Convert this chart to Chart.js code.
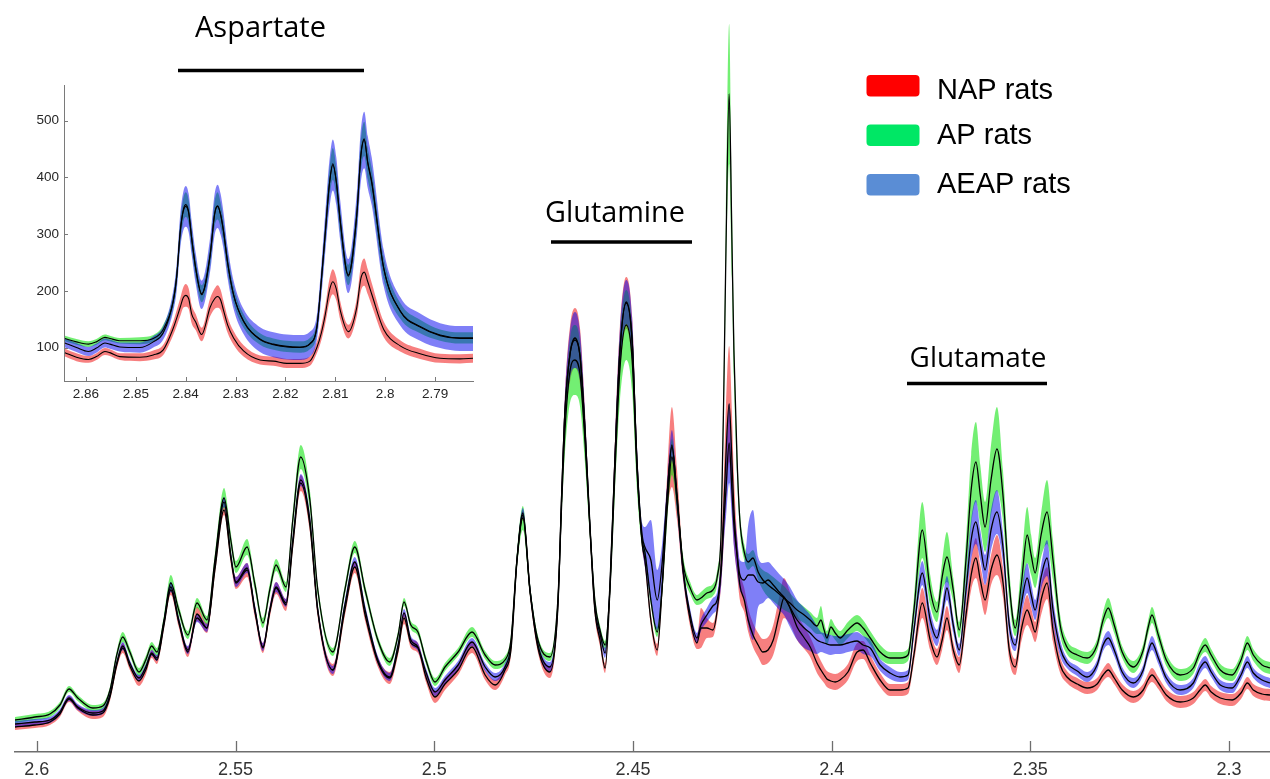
<!DOCTYPE html>
<html><head><meta charset="utf-8">
<script src="https://cdn.jsdelivr.net/npm/chart.js@4.4.1/dist/chart.umd.min.js"></script>
<style>
html,body{margin:0;padding:0;background:#fff;}
#wrap{position:relative;width:1270px;height:779px;overflow:hidden;background:#fff;}
#main{position:absolute;left:0;top:0;}
#inset{position:absolute;left:0;top:0;}
</style></head><body>
<div id="wrap"><canvas id="main" width="1270" height="779"></canvas><canvas id="inset" width="490" height="410"></canvas></div>
<script>
// ---------- main spectrum (chemical shift, ppm) ----------
const ppm = [2.6055,2.6005,2.5967,2.5942,2.5919,2.5897,2.5859,2.5834,2.5816,2.5799,2.5784,2.5766,2.5743,2.5726,2.5711,2.5698,2.5680,2.5663,2.5643,2.5620,2.5597,2.5572,2.5552,2.5529,2.5512,2.5499,2.5471,2.5451,2.5431,2.5414,2.5398,2.5373,2.5356,2.5336,
2.5313,2.5293,2.5255,2.5225,2.5200,2.5174,2.5142,2.5112,2.5091,2.5076,2.5059,2.5041,2.5021,2.4998,2.4973,2.4940,2.4905,2.4872,2.4847,2.4822,2.4807,2.4792,2.4777,2.4759,2.4739,2.4709,
2.4689,2.4679,2.4671,2.4658,2.4646,2.4633,2.4621,2.4608,2.4596,2.4583,2.4570,2.4558,2.4545,2.4533,2.4517,2.4502,2.4490,2.4477,2.4470,2.4455,2.4439,2.4427,2.4414,2.4402,2.4389,2.4374,2.4356,2.4339,2.4329,2.4314,2.4299,2.4288,2.4278,2.4271,2.4266,2.4258,2.4251,2.4246,2.4238,2.4231,
2.4220,2.4210,2.4198,2.4185,2.4173,2.4160,2.4147,2.4132,2.4120,2.4105,2.4087,2.4069,2.4054,2.4037,2.4027,2.4019,2.4012,2.4002,2.3991,2.3979,2.3959,2.3936,2.3921,2.3903,2.3878,2.3853,2.3828,2.3808,
2.3793,2.3772,2.3752,2.3735,2.3722,2.3710,2.3694,2.3679,2.3662,2.3649,2.3637,2.3626,2.3614,2.3599,2.3584,2.3569,2.3553,2.3538,2.3523,2.3508,2.3498,2.3488,2.3473,2.3458,2.3443,2.3425,2.3408,2.3382,2.3357,2.3332,2.3317,2.3304,2.3289,2.3269,2.3241,2.3216,2.3204,2.3194,2.3178,2.3158,2.3123,2.3090,2.3073,2.3060,2.3045,2.3022,2.2992,2.2970,2.2954,2.2939,2.2917,2.2897];

// NAP rats (red)
const napMean = [25,27,30,38,53,44,37,39,55,87,104,86,71,82,98,92,127,162,130,100,138,124,182,242,194,169,182,140,104,140,164,147,207,269,
227,140,82,142,185,137,90,74,102,134,109,104,75,55,68,82,105,77,67,82,102,190,237,160,104,80,
144,262,342,399,414,395,325,222,142,112,84,162,297,400,449,410,290,209,192,132,102,162,257,305,257,182,132,109,124,124,122,142,187,247,297,348,292,242,197,167,
152,132,117,107,100,102,112,137,154,144,125,114,105,89,82,77,73,71,70,72,80,100,102,89,72,62,62,64,
97,149,112,95,112,134,102,87,137,177,194,172,152,182,197,170,102,85,122,142,132,120,152,169,122,87,75,68,64,68,77,82,74,62,55,62,72,77,69,57,50,54,62,67,60,54,52,59,69,62,58,57];
const napSd = [3,3,3,3,3,3,4,4,4,4,5,4,5,5,4,4,4,5,5,5,7,5,5,5,6,6,7,6,5,6,6,6,6,8,
7,6,6,6,6,6,5,6,5,6,5,5,5,6,6,5,6,5,5,5,5,5,5,5,5,6,
6,10,18,28,30,28,18,8,6,6,5,8,18,25,26,25,16,6,6,6,6,8,20,40,25,10,7,6,20,10,7,8,20,35,50,58,48,35,20,15,
12,12,12,12,13,13,15,18,20,16,13,11,10,10,9,8,8,8,8,8,8,9,9,8,7,6,6,6,
8,15,10,8,10,12,8,8,12,15,20,15,15,15,20,15,10,8,12,15,12,10,15,16,12,8,6,6,6,6,6,7,6,6,6,6,6,7,6,6,6,6,6,6,6,6,6,6,6,6,6,6];

// AP rats (green)
const apMean = [32,35,38,47,63,54,44,46,62,97,115,100,80,92,106,100,132,169,142,117,149,132,192,254,212,185,205,167,129,162,187,165,232,295,
252,162,100,162,205,162,112,90,117,150,127,120,92,70,85,100,120,97,87,92,112,192,234,162,112,95,
152,252,322,382,392,377,312,222,152,122,107,162,282,382,427,392,282,212,200,152,120,162,242,295,252,189,164,152,154,159,162,175,222,372,502,658,512,402,292,232,
200,190,194,180,172,167,163,158,154,149,142,137,132,126,132,122,114,125,119,114,122,129,124,114,100,94,94,97,
142,222,162,140,175,195,162,122,192,262,290,257,225,272,303,257,167,124,167,217,197,179,217,240,192,127,105,97,94,107,132,144,127,100,85,102,124,137,117,92,77,84,100,107,97,82,77,92,109,97,87,84];
const apSd = [3,3,3,3,3,3,3,3,3,4,5,4,4,4,4,4,5,8,5,4,5,4,6,10,7,6,8,6,5,6,6,5,8,12,
10,6,4,5,6,5,4,4,4,4,4,4,4,4,4,4,5,4,4,4,5,8,12,6,4,4,
6,12,22,32,35,32,22,10,6,5,4,8,20,32,35,32,20,8,6,5,5,8,12,18,12,8,6,5,6,6,6,7,10,22,35,70,38,28,15,10,
8,8,8,8,10,12,12,12,12,10,9,8,8,8,14,8,7,8,7,7,8,8,8,7,7,6,6,6,
12,28,15,10,15,25,12,8,20,35,40,30,25,35,42,25,15,8,20,28,20,15,22,32,20,10,7,6,6,6,8,10,8,6,6,6,7,8,7,6,6,6,6,7,6,6,6,6,7,6,6,6];

// AEAP rats (blue)
const aeapMean = [28,30,32,40,54,45,39,41,57,89,106,89,74,85,99,94,130,165,132,102,134,124,187,250,197,170,184,142,105,142,165,149,212,272,
232,142,82,147,190,142,92,75,107,139,112,105,80,60,72,87,110,85,75,85,107,192,239,162,107,85,
147,262,342,399,412,395,325,225,145,119,99,167,297,400,450,412,292,217,205,192,152,187,257,307,252,182,137,114,127,137,146,152,182,232,262,309,262,227,197,177,
172,177,177,170,169,172,167,160,155,145,132,124,119,112,110,109,108,107,107,107,109,111,107,104,87,79,75,77,
122,179,132,114,137,164,127,102,162,212,230,207,182,222,240,205,127,107,147,174,157,142,175,194,142,104,89,81,75,87,107,114,102,80,69,82,100,109,94,74,62,69,84,90,80,67,64,77,90,79,72,69];
const aeapSd = [3,3,3,3,3,3,3,3,3,3,4,3,3,3,3,3,4,5,4,4,4,4,4,5,5,5,5,5,4,4,5,4,5,6,
6,5,4,5,5,5,4,4,4,4,4,4,4,4,4,4,4,4,4,4,4,5,5,5,4,5,
6,10,16,24,28,24,16,8,5,5,5,8,15,22,22,22,15,12,20,40,30,20,12,15,12,8,6,5,6,7,8,8,15,20,28,40,28,22,18,15,
18,50,65,25,20,18,18,18,18,20,20,20,18,14,10,10,10,10,9,9,9,9,9,8,6,6,5,5,
8,12,10,8,10,12,8,6,12,20,22,15,15,20,22,15,10,6,12,15,12,10,12,18,12,8,5,5,5,5,6,7,6,5,5,5,6,7,6,5,5,5,6,6,5,5,5,5,6,5,5,5];

const mainTicks = [2.6,2.55,2.5,2.45,2.4,2.35,2.3];

// ---------- inset: aspartate region ----------
const insetPpm = [2.8642,2.8619,2.8595,2.8579,2.8562,2.8552,2.8532,2.8492,2.8465,2.8445,
2.8425,2.8418,2.8411,2.8405,2.8400,2.8394,2.8388,2.8380,2.8368,2.8351,
2.8342,2.8336,2.8330,2.8324,2.8316,2.8304,2.8284,2.8251,2.8224,2.8197,
2.8171,2.8151,2.8137,2.8128,2.8120,2.8112,2.8105,2.8098,2.8090,2.8074,
2.8057,2.8049,2.8042,2.8035,2.8027,2.8003,2.7970,2.7930,2.7890,2.7850,2.7824];
const insetNapMean = [91,83,79,84,93,91,84,83,87,96,134,152,171,188,192,186,159,145,123,171,
186,190,184,165,140,117,94,78,76,72,72,76,100,126,159,200,216,203,165,128,
171,221,233,216,194,132,103,89,81,80,81];
const insetNapSd = [7,7,6,6,6,6,6,7,8,9,12,14,16,18,20,18,16,14,12,16,
18,20,18,16,14,12,10,8,8,8,8,8,10,13,16,20,22,20,16,12,
16,22,24,22,20,14,10,9,8,8,8];
const insetApMean = [116,110,106,110,118,116,112,112,116,132,182,226,303,342,352,339,292,240,195,262,
336,350,334,303,250,193,147,115,106,102,101,107,136,219,303,388,424,391,320,228,
333,438,468,425,390,240,165,137,122,117,117];
const insetApSd = [5,5,5,5,5,5,5,6,6,8,12,16,20,21,22,21,20,17,15,18,
22,24,22,20,17,15,12,10,10,10,10,10,12,17,22,26,28,26,22,18,
24,28,30,28,26,20,14,12,10,10,10];
const insetAeapMean = [108,100,93,99,108,106,101,100,110,126,182,225,305,340,349,337,293,240,193,264,
335,349,335,305,250,193,146,114,105,101,100,106,136,219,305,387,422,393,323,226,
335,437,466,427,393,240,164,136,121,116,116];
const insetAeapSd = [8,8,8,8,8,8,8,9,10,12,18,24,30,34,36,34,30,27,25,30,
36,38,36,32,28,25,22,22,22,22,22,22,22,28,35,42,45,42,35,30,
38,46,50,46,42,32,25,24,22,22,22];
const insetTicksX = [2.86,2.85,2.84,2.83,2.82,2.81,2.8,2.79];
const insetTicksY = [100,200,300,400,500];

const seriesNames = ['NAP rats','AP rats','AEAP rats'];
const annotationLabels = ['Aspartate','Glutamine','Glutamate'];

// ---------- styling ----------
const bandColors = ['rgba(240,0,0,0.5)','rgba(0,225,0,0.55)','rgba(0,0,240,0.5)'];
const swatchColors = ['#ff0000','#00e765','#5a8dd5'];
const fmt = v => String(Math.round(v*1000)/1000);

function buildSets(x, means, sds, lineWidth){
  const sets = [];
  const orders = [3,2,1];
  means.forEach((m,k)=>{
    const sd = sds[k];
    sets.push({data:x.map((v,i)=>({x:v,y:m[i]+sd[i]})), borderColor:'rgba(0,0,0,0)', borderWidth:0, pointRadius:0, fill:false, order:orders[k]});
    sets.push({data:x.map((v,i)=>({x:v,y:m[i]-sd[i]})), borderColor:'rgba(0,0,0,0)', borderWidth:0, pointRadius:0, fill:'-1', backgroundColor:bandColors[k], order:orders[k]});
  });
  means.forEach((m)=>{
    sets.push({data:x.map((v,i)=>({x:v,y:m[i]})), borderColor:'#000', borderWidth:lineWidth, pointRadius:0, fill:false, order:0});
  });
  return sets;
}

const inwardTicks = {
  id:'inwardTicks',
  afterDraw(chart, args, opts){
    const {ctx, chartArea} = chart;
    ctx.save(); ctx.strokeStyle = opts.color; ctx.lineWidth = opts.width;
    const xs = chart.scales.x;
    xs.ticks.forEach(t=>{
      const px = Math.round(xs.getPixelForValue(t.value))+0.5;
      ctx.beginPath(); ctx.moveTo(px, chartArea.bottom); ctx.lineTo(px, chartArea.bottom-opts.len); ctx.stroke();
    });
    if (opts.yTicks){
      const ys = chart.scales.y;
      ys.ticks.forEach(t=>{
        const py = Math.round(ys.getPixelForValue(t.value))+0.5;
        ctx.beginPath(); ctx.moveTo(chartArea.left, py); ctx.lineTo(chartArea.left+opts.len, py); ctx.stroke();
      });
    }
    ctx.restore();
  }
};

function fitSize(ctx, text, family, targetW){
  ctx.font = '100px ' + family;
  return 100*targetW/ctx.measureText(text).width;
}

const overlay = {
  id:'overlay',
  afterDraw(chart){
    const ctx = chart.ctx;
    ctx.save();
    const place = [
      {cx:260.5, w:131, base:37, x1:178, x2:364, ly:70.5},
      {cx:615,   w:140, base:222, x1:551, x2:692, ly:242},
      {cx:978,   w:137, base:367, x1:907, x2:1047, ly:383.5}
    ];
    const fam = '"Open Sans", "Noto Sans", sans-serif';
    annotationLabels.forEach((t,i)=>{
      const p = place[i];
      const s = fitSize(ctx, t, fam, p.w);
      ctx.font = s.toFixed(1)+'px '+fam;
      ctx.fillStyle = '#000'; ctx.textAlign='center'; ctx.textBaseline='alphabetic';
      ctx.fillText(t, p.cx, p.base);
      ctx.strokeStyle='#000'; ctx.lineWidth=3.5;
      ctx.beginPath(); ctx.moveTo(p.x1, p.ly); ctx.lineTo(p.x2, p.ly); ctx.stroke();
    });
    const tops = [75, 124.5, 174];
    const bases = [99, 143.5, 193];
    const lfam = '"Liberation Sans", Arial, sans-serif';
    const ls = fitSize(ctx, seriesNames[0], lfam, 116);
    seriesNames.forEach((n,i)=>{
      ctx.fillStyle = swatchColors[i];
      ctx.beginPath();
      if (ctx.roundRect) ctx.roundRect(866.5, tops[i], 53, 21.5, 4); else ctx.rect(866.5, tops[i], 53, 21.5);
      ctx.fill();
      ctx.fillStyle = '#000'; ctx.textAlign='left'; ctx.textBaseline='alphabetic';
      ctx.font = ls.toFixed(1)+'px '+lfam;
      ctx.fillText(n, 937, bases[i]);
    });
    ctx.restore();
  }
};

const common = {
  responsive:false, animation:false, events:[],
  elements:{line:{cubicInterpolationMode:'monotone'}},
};

new Chart(document.getElementById('main'), {
  type:'line',
  data:{datasets: buildSets(ppm, [napMean, apMean, aeapMean], [napSd, apSd, aeapSd], 1.3)},
  options:Object.assign({}, common, {
    layout:{padding:{left:15, right:0, top:0, bottom:0}},
    plugins:{legend:{display:false}, tooltip:{enabled:false},
      inwardTicks:{color:'#6e6e6e', width:1.3, len:11, yTicks:false}},
    scales:{
      x:{type:'linear', reverse:true, min:2.2897, max:2.6055,
        afterBuildTicks:s=>{ s.ticks = mainTicks.map(v=>({value:v})); },
        afterFit:s=>{ s.height = 27; },
        grid:{display:false, drawTicks:false},
        border:{display:true, color:'#6e6e6e', width:1.5},
        ticks:{autoSkip:false, maxRotation:0, padding:7, color:'#333',
          font:{family:'"Liberation Sans", Arial, sans-serif', size:18}, callback:v=>fmt(v)}},
      y:{display:false, min:0, max:752}
    }
  }),
  plugins:[inwardTicks, overlay]
});

new Chart(document.getElementById('inset'), {
  type:'line',
  data:{datasets: buildSets(insetPpm, [insetNapMean, insetApMean, insetAeapMean], [insetNapSd, insetApSd, insetAeapSd], 1.1)},
  options:Object.assign({}, common, {
    layout:{padding:{left:0, right:17, top:85, bottom:0}},
    plugins:{legend:{display:false}, tooltip:{enabled:false},
      inwardTicks:{color:'#7a7a7a', width:1, len:4, yTicks:true}},
    scales:{
      x:{type:'linear', reverse:true, min:2.7824, max:2.8644,
        afterBuildTicks:s=>{ s.ticks = insetTicksX.map(v=>({value:v})); },
        afterFit:s=>{ s.height = 29; },
        grid:{display:false, drawTicks:false},
        border:{display:true, color:'#7a7a7a', width:1},
        ticks:{autoSkip:false, maxRotation:0, padding:5, color:'#262626',
          font:{family:'"Liberation Sans", Arial, sans-serif', size:13.5}, callback:v=>fmt(v)}},
      y:{type:'linear', min:41, max:563,
        afterBuildTicks:s=>{ s.ticks = insetTicksY.map(v=>({value:v})); },
        afterFit:s=>{ s.width = 64; },
        grid:{display:false, drawTicks:false},
        border:{display:true, color:'#7a7a7a', width:1},
        ticks:{autoSkip:false, padding:5, color:'#262626',
          font:{family:'"Liberation Sans", Arial, sans-serif', size:13.5}, callback:v=>fmt(v)}}
    }
  }),
  plugins:[inwardTicks]
});
</script>
</body></html>
